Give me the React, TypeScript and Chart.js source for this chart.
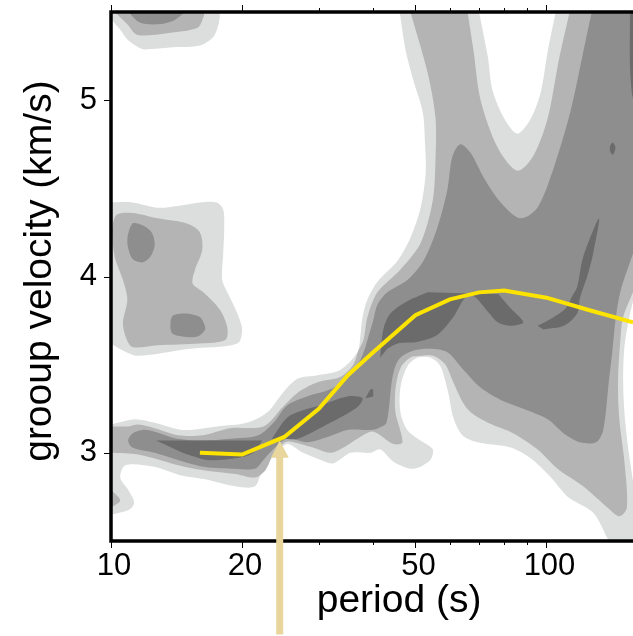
import React, { useEffect, useRef } from "react";
import { Chart, registerables } from "chart.js";

Chart.register(...registerables);

type Pt = [number, number];

const xTickValues = [10, 20, 30, 40, 50, 60, 70, 80, 90, 100];
const xLabelled = [10, 20, 50, 100];
const yTickValues = [3, 4, 5];

const pickPeriods = [16, 20, 25, 30, 35, 40, 50, 60, 70, 80, 100, 125, 158];
const pickVelocities = [3.0, 2.99, 3.09, 3.25, 3.44, 3.57, 3.78, 3.87, 3.91, 3.92, 3.88, 3.81, 3.74];

const arrowShaft: Pt[] = [[24.4, 1.97], [24.4, 2.98]];
const arrowHead: Pt[] = [[24.4, 3.07], [25.6, 2.972], [23.3, 2.972]];

const lightMain: Pt[] = [
  [10, 3.16], [11.35, 3.19], [12.6, 3.17], [14.6, 3.13], [17.5, 3.15], [20.5, 3.17], [22.85, 3.23], [24.8, 3.34],
  [26.8, 3.42], [29.8, 3.44], [33.6, 3.47], [36.8, 3.57], [37.4, 3.67], [37.8, 3.77], [38.8, 3.87], [40.9, 3.97],
  [45.5, 4.09], [48.7, 4.22], [51.4, 4.39], [52.8, 4.59], [52.6, 4.76], [52, 4.93], [49.5, 5.11], [47.5, 5.28], [46, 5.5], [46, 5.5],
  [70, 5.5], [70, 5.5], [73.4, 5.24], [75.1, 5.06], [79.8, 4.9], [85.7, 4.81], [91.8, 4.89], [96.9, 5.04], [100.7, 5.28], [105, 5.5], [105, 5.5],
  [158, 5.5], [158, 5.5], [158, 3.86], [158, 3.86], [155, 3.77], [151, 3.6], [150, 3.41], [151, 3.23], [154, 3.03], [158, 2.84], [158, 2.84],
  [158, 2.5], [158, 2.5], [139, 2.5], [139, 2.5], [128, 2.66], [112, 2.75], [102.4, 2.86], [91.8, 2.97], [82.7, 3.03], [69.5, 3.06],
  [64.1, 3.1], [61.1, 3.2], [59.5, 3.34], [57.1, 3.49], [54.1, 3.54], [50.6, 3.54], [47.9, 3.49], [46.2, 3.37], [46.2, 3.23], [47.9, 3.13],
  [51.4, 3.07], [54.8, 3.02], [54.1, 2.96], [49.5, 2.91], [44.5, 2.95], [41.5, 3.02], [39.4, 3.0], [35.5, 3.0], [32.4, 2.94], [30.3, 2.96],
  [27.6, 3.0], [25.4, 3.05], [24.1, 3.0], [22.4, 2.92], [21.4, 2.81], [19.3, 2.81], [16.45, 2.85], [14.6, 2.87], [12.6, 2.92], [10.8, 2.93],
  [10.5, 2.86], [10.95, 2.79], [11.3, 2.72], [11.05, 2.68], [10.05, 2.65], [10, 2.65], [10, 2.65],
];
const lightTop: Pt[] = [
  [10, 5.5], [10, 5.5], [10.1, 5.45], [10.5, 5.4], [10.95, 5.34], [11.8, 5.29], [12.3, 5.29], [13.9, 5.3], [16, 5.31], [17.2, 5.36], [17.7, 5.44], [17.8, 5.5], [17.8, 5.5],
];
const lightBlob: Pt[] = [
  [10, 4.42], [10, 4.42], [11.2, 4.42], [12.8, 4.39], [14.2, 4.4], [16, 4.42], [17.5, 4.42], [18.1, 4.38], [18.2, 4.28], [18.1, 4.13], [18, 3.98],
  [18.5, 3.91], [19.5, 3.79], [20, 3.7], [19.5, 3.62], [15.2, 3.59], [11.5, 3.55], [10.65, 3.58], [10, 3.62], [10, 3.62],
];

const midMain: Pt[] = [
  [10, 3.15], [10.95, 3.15], [11.55, 3.16], [12.6, 3.14], [14.25, 3.1], [16.2, 3.1], [18.8, 3.14], [22.4, 3.15], [24.8, 3.26], [26.8, 3.34],
  [29.8, 3.4], [33.6, 3.43], [36, 3.5], [37, 3.58], [38, 3.64], [38.8, 3.77], [40.9, 3.91], [46.2, 4.04], [51.4, 4.19], [54.8, 4.43], [55.6, 4.66],
  [55.6, 4.9], [53.4, 5.15], [48.7, 5.5], [48.7, 5.5], [65.9, 5.5], [65.9, 5.5], [68, 5.28], [70.6, 5], [77.3, 4.73], [85.7, 4.6], [93.1, 4.68], [100.7, 4.9],
  [106.8, 5.23], [113, 5.5], [113, 5.5], [158, 5.5], [158, 5.5], [158, 3.91], [158, 3.91], [150, 3.77], [148, 3.66], [146, 3.41], [147, 3.19], [151, 2.95], [153, 2.69],
  [147, 2.64], [138, 2.69], [121.4, 2.81], [106, 2.91], [95.3, 3.02], [84, 3.11], [73.4, 3.17], [67, 3.23], [64.1, 3.29], [61.1, 3.4], [58.6, 3.5],
  [55, 3.55], [51.4, 3.55], [48.7, 3.54], [46.2, 3.48], [45, 3.36], [45, 3.23], [46.7, 3.06], [44.5, 3.05], [40, 3.12], [36.8, 3.08], [34.2, 3.03],
  [31.9, 3], [29.1, 3.03], [26.2, 3.06], [25.1, 3.06], [23.6, 2.99], [22.6, 2.9], [21.4, 2.86], [19.3, 2.88], [16.45, 2.9], [14.25, 2.93], [11.55, 2.99], [10, 3], [10, 3],
];
const midTop: Pt[] = [
  [10.2, 5.5], [10.2, 5.5], [10.9, 5.43], [11.5, 5.37], [13.45, 5.38], [15.8, 5.41], [16.3, 5.47], [16.4, 5.5], [16.4, 5.5],
];
const midBlob: Pt[] = [
  [10.05, 4.27], [10.3, 4.35], [11.2, 4.36], [12.8, 4.33], [14.95, 4.3], [16, 4.25], [16.2, 4.15], [15.6, 4.04], [15.4, 3.96], [16.3, 3.91],
  [17.8, 3.81], [18.5, 3.71], [18.3, 3.64], [16, 3.62], [12.8, 3.61], [11.2, 3.6], [10.8, 3.66], [10.65, 3.74], [10.9, 3.87], [10.65, 3.98], [10.2, 4.11], [10.05, 4.25],
];
const midCorner: Pt[] = [[10, 2.79], [10.5, 2.73], [10, 2.69]];

const darkMain: Pt[] = [
  [10.95, 3.07], [11.2, 3.11], [11.8, 3.13], [12.6, 3.12], [14.2, 3.08], [16.2, 3.07], [18.8, 3.08], [21.8, 3.1], [23.6, 3.17], [25.4, 3.27],
  [28.2, 3.32], [31.9, 3.36], [34.9, 3.43], [37.4, 3.53], [38.4, 3.6], [38.8, 3.64], [40, 3.75], [40.9, 3.84], [43.1, 3.91], [47.9, 3.98],
  [52.2, 4.09], [56.2, 4.28], [59.2, 4.49], [60.8, 4.68], [63.4, 4.75], [67, 4.7], [71.8, 4.56], [78.5, 4.42], [87.1, 4.33], [95.3, 4.39],
  [104, 4.62], [113.6, 4.94], [121.4, 5.27], [127, 5.5], [127, 5.5], [158, 5.5], [158, 5.5], [158, 4.13], [158, 4.13], [148, 3.92], [144, 3.75], [142, 3.6], [139, 3.4],
  [135, 3.13], [130, 3.06], [119.4, 3.06], [109.6, 3.11], [100.7, 3.19], [88.5, 3.25], [78.5, 3.3], [70.6, 3.37], [64.5, 3.47], [59.2, 3.57],
  [54.1, 3.59], [49.5, 3.58], [45.8, 3.53], [44.3, 3.43], [42.9, 3.17], [41.1, 3.14], [39.4, 3.13], [34.9, 3.13], [31.4, 3.09], [28.2, 3.06],
  [25.4, 3.08], [23.8, 3.03], [22.4, 2.96], [21.4, 2.91], [19.3, 2.91], [16.45, 2.92], [14.25, 2.96], [12.6, 3], [11.2, 3.03],
];
const darkBlobA: Pt[] = [[11.2, 4.3], [11.8, 4.29], [12.4, 4.25], [12.6, 4.18], [12.3, 4.11], [11.8, 4.08], [11.2, 4.1], [10.9, 4.2]];
const darkBlobB: Pt[] = [
  [13.9, 3.78], [14.95, 3.79], [16, 3.77], [16.3, 3.74], [16.45, 3.7], [15.8, 3.66], [14.6, 3.66], [13.8, 3.68], [13.7, 3.74],
];
const darkTop: Pt[] = [[10.95, 5.5], [10.95, 5.5], [11.65, 5.44], [12.8, 5.43], [13.9, 5.45], [14.8, 5.5], [14.8, 5.5]];

const coreLeft: Pt[] = [[12.7, 3.07], [12.7, 3.07], [22.25, 3.07], [22.25, 3.07], [21.2, 3], [19.5, 2.97], [16.6, 2.96], [14.6, 3]];
const coreMid: Pt[] = [
  [23.4, 3.08], [25.4, 3.2], [27.5, 3.24], [30.3, 3.27], [34.9, 3.32], [37.8, 3.31], [36.8, 3.26], [33.6, 3.2], [30.7, 3.15], [26.8, 3.08], [24.8, 3.08],
];
const coreSmall: Pt[] = [[38.4, 3.31], [39.4, 3.36], [40, 3.36], [40, 3.32]];
const coreUpper: Pt[] = [
  [41.5, 3.54], [42.2, 3.7], [43.8, 3.79], [47.9, 3.86], [53.4, 3.91], [53.4, 3.91], [77.6, 3.9], [77.6, 3.9], [82.7, 3.82], [88.5, 3.74], [82.7, 3.72], [77.3, 3.74],
  [73.4, 3.8], [68, 3.89], [65, 3.88], [61.1, 3.77], [56.2, 3.67], [50.6, 3.63], [45.5, 3.62], [43.1, 3.59],
];
const coreRight: Pt[] = [
  [95.3, 3.72], [102.4, 3.76], [110.7, 3.82], [114.6, 3.89], [117.6, 3.94], [121.4, 4.11], [132, 4.33], [128, 4.13], [124, 4], [119.4, 3.88],
  [117.6, 3.79], [109.6, 3.72], [98.5, 3.7],
];
const coreDot: Pt[] = [[142, 4.76], [144, 4.73], [142, 4.69], [140, 4.71], [140, 4.74]];
const coreEdge: Pt[] = [[155.5, 5.5], [155.5, 5.5], [155.5, 5.19], [157, 5.04], [158, 5.01], [158, 5.01], [158, 5.5], [158, 5.5]];

const LIGHT = "#dcdedd";
const MID = "#b4b4b4";
const DARK = "#8e8e8e";
const CORE = "#6b6b6b";
const YELLOW = "#fde400";
const TAN = "#e8d69c";
const FONT = "'Liberation Sans', Helvetica, Arial, sans-serif";

const toXY = (pts: Pt[]) => pts.map(([x, y]) => ({ x, y }));
const polygon = (pts: Pt[], color: string, tension = 0.3) => ({
  data: toXY(pts),
  showLine: true,
  fill: "shape",
  backgroundColor: color,
  borderWidth: 0,
  pointRadius: 0,
  tension,
});
// A blob has no corner: repeating its ends lets the curve run smoothly through the join.
const blob = (pts: Pt[], color: string) =>
  polygon([pts[pts.length - 1], ...pts, pts[0], pts[1]], color);

const ARROW_HEAD_INDEX = 2;

const framePlugin = {
  id: "frame",
  beforeDatasetDraw(chart: any, args: any) {
    if (args.index !== ARROW_HEAD_INDEX) return;
    const { ctx, chartArea: a, scales } = chart;
    ctx.save();
    ctx.strokeStyle = "#000";
    ctx.lineWidth = 1;
    for (const t of scales.x.ticks) {
      const px = Math.round(scales.x.getPixelForValue(t.value)) + 0.5;
      const len = xLabelled.includes(t.value) ? 7 : 4;
      ctx.beginPath();
      ctx.moveTo(px, a.top - len);
      ctx.lineTo(px, a.top);
      ctx.moveTo(px, a.bottom);
      ctx.lineTo(px, a.bottom + len);
      ctx.stroke();
    }
    for (const t of scales.y.ticks) {
      const py = Math.round(scales.y.getPixelForValue(t.value)) + 0.5;
      ctx.beginPath();
      ctx.moveTo(a.left - 7, py);
      ctx.lineTo(a.left, py);
      ctx.stroke();
    }
    ctx.lineWidth = 3.5;
    ctx.lineCap = "square";
    ctx.beginPath();
    ctx.moveTo(a.right + 5, a.top);
    ctx.lineTo(a.left, a.top);
    ctx.lineTo(a.left, a.bottom);
    ctx.lineTo(a.right + 5, a.bottom);
    ctx.stroke();
    ctx.restore();
  },
};

export default function App() {
  const ref = useRef<HTMLCanvasElement>(null);
  useEffect(() => {
    const datasets: any[] = [
      {
        data: pickPeriods.map((x, i) => ({ x, y: pickVelocities[i] })),
        showLine: true,
        borderColor: YELLOW,
        borderWidth: 4,
        pointRadius: 0,
        fill: false,
      },
      {
        data: toXY(arrowShaft),
        showLine: true,
        borderColor: TAN,
        borderWidth: 7,
        pointRadius: 0,
        fill: false,
        clip: false,
      },
      polygon(arrowHead, TAN, 0),
      polygon(coreLeft, CORE),
      polygon(coreMid, CORE),
      polygon(coreSmall, CORE, 0),
      polygon(coreUpper, CORE),
      polygon(coreRight, CORE),
      blob(coreDot, CORE),
      polygon(coreEdge, CORE),
      blob(darkMain, DARK),
      blob(darkBlobA, DARK),
      blob(darkBlobB, DARK),
      polygon(darkTop, DARK),
      polygon(midMain, MID),
      polygon(midTop, MID),
      blob(midBlob, MID),
      polygon(midCorner, MID),
      polygon(lightMain, LIGHT),
      polygon(lightTop, LIGHT),
      polygon(lightBlob, LIGHT),
    ];
    const chart = new Chart(ref.current as HTMLCanvasElement, {
      type: "scatter",
      data: { datasets },
      plugins: [framePlugin],
      options: {
        animation: false,
        responsive: false,
        devicePixelRatio: 1,
        layout: { autoPadding: false, padding: { top: 12, right: 0, left: 0, bottom: 0 } },
        plugins: { legend: { display: false }, tooltip: { enabled: false } },
        scales: {
          x: {
            type: "logarithmic",
            min: 10,
            max: 158,
            afterBuildTicks: (s: any) => {
              s.ticks = xTickValues.map((value) => ({ value }));
            },
            afterFit: (s: any) => {
              s.height = 95;
              s.paddingLeft = 0;
              s.paddingRight = 0;
            },
            grid: { display: false, drawTicks: false },
            border: { display: false },
            ticks: {
              autoSkip: false,
              maxRotation: 0,
              minRotation: 0,
              padding: 7,
              labelOffset: 3,
              color: "#000",
              font: { family: FONT, size: 31 },
              callback: (v: any) => (xLabelled.includes(Number(v)) ? String(v) : ""),
            },
            title: {
              display: true,
              text: "     period (s)",
              color: "#000",
              font: { family: FONT, size: 39 },
              padding: { top: 0, bottom: 11 },
            },
          },
          y: {
            type: "linear",
            min: 2.5,
            max: 5.5,
            afterBuildTicks: (s: any) => {
              s.ticks = yTickValues.map((value) => ({ value }));
            },
            afterFit: (s: any) => {
              s.width = 111;
              s.paddingTop = 0;
              s.paddingBottom = 0;
            },
            grid: { display: false, drawTicks: false },
            border: { display: false },
            ticks: {
              padding: 14,
              color: "#000",
              font: { family: FONT, size: 31 },
              callback: (v: any) => String(v),
            },
            title: {
              display: true,
              text: " grooup velocity (km/s)",
              color: "#000",
              font: { family: FONT, size: 39 },
              padding: { top: 17, bottom: 0 },
            },
          },
        },
      } as any,
    });
    return () => chart.destroy();
  }, []);
  return (
    <canvas
      ref={ref}
      width={633}
      height={636}
      style={{ position: "absolute", left: 0, top: 0, display: "block", background: "#fff" }}
    />
  );
}
